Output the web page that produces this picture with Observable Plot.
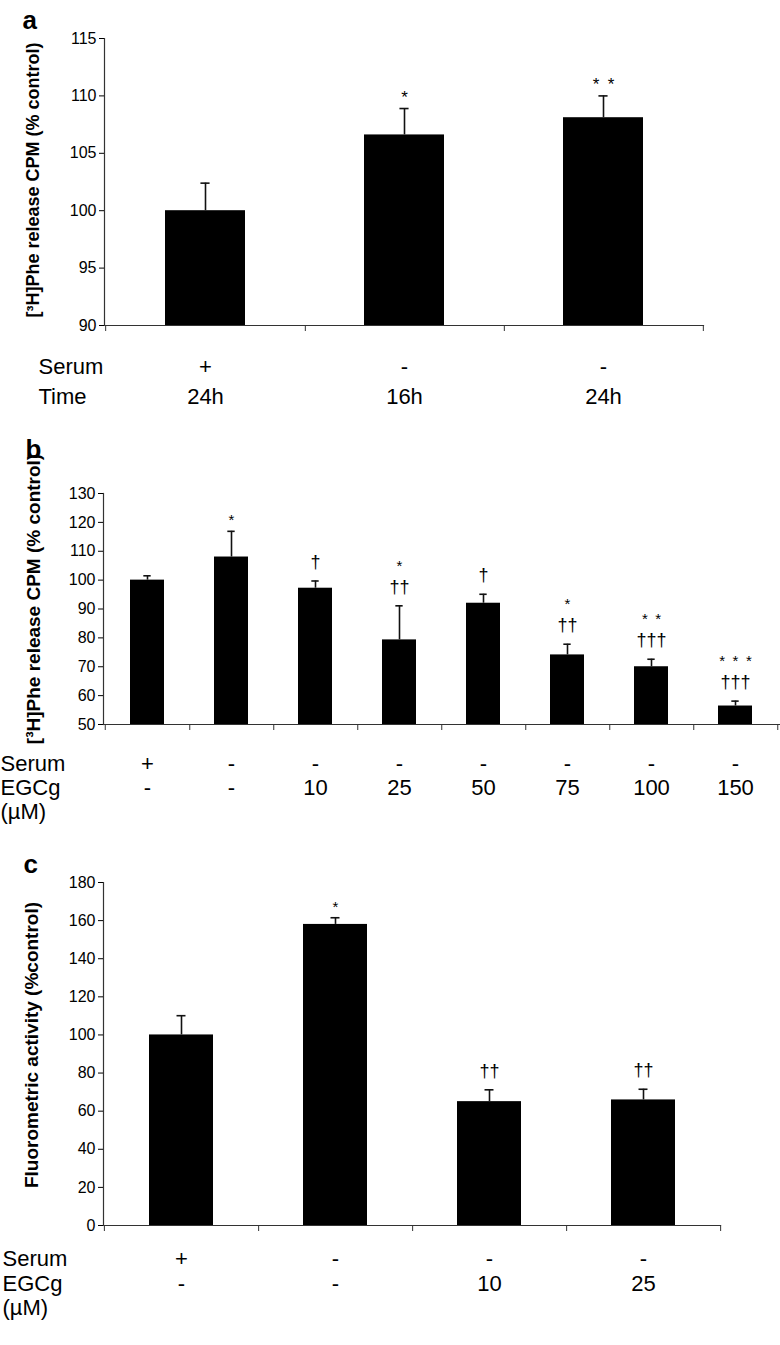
<!DOCTYPE html>
<html><head><meta charset="utf-8">
<script src="https://cdn.jsdelivr.net/npm/d3@7"></script>
<script src="https://cdn.jsdelivr.net/npm/@observablehq/plot@0.6"></script>
<style>
body{margin:0;background:#fff;width:780px;}
#chart svg{display:block;}
</style></head><body><div id="chart"></div>
<script>
// ---------- Panel a ----------
const aSerum = ["+", "-", "-"];
const aTime = ["24h", "16h", "24h"];
const aValues = [100.0, 106.6, 108.1];
const aErrors = [2.4, 2.3, 1.9];
const aStars = ["", "*", "* *"];
const aDaggers = ["", "", ""];
const aTicks = [90, 95, 100, 105, 110, 115];
const aRowLabels = ["Serum", "Time"];
const aYLabel = "[³H]Phe release CPM (% control)";

// ---------- Panel b ----------
const bSerum = ["+", "-", "-", "-", "-", "-", "-", "-"];
const bEGCg = ["-", "-", "10", "25", "50", "75", "100", "150"];
const bValues = [100.0, 108.0, 97.2, 79.3, 92.0, 74.1, 70.0, 56.4];
const bErrors = [1.5, 8.9, 2.5, 11.8, 3.1, 3.7, 2.6, 1.7];
const bStars = ["", "*", "", "*", "", "*", "* *", "* * *"];
const bDaggers = ["", "", "†", "††", "†", "††", "†††", "†††"];
const bTicks = [50, 60, 70, 80, 90, 100, 110, 120, 130];
const bRowLabels = ["Serum", "EGCg", "(µM)"];
const bYLabel = "[³H]Phe release CPM (% control)";

// ---------- Panel c ----------
const cSerum = ["+", "-", "-", "-"];
const cEGCg = ["-", "-", "10", "25"];
const cValues = [100.0, 158.0, 65.0, 65.9];
const cErrors = [10.1, 3.5, 6.2, 5.6];
const cStars = ["", "*", "", ""];
const cDaggers = ["", "", "††", "††"];
const cTicks = [0, 20, 40, 60, 80, 100, 120, 140, 160, 180];
const cRowLabels = ["Serum", "EGCg", "(µM)"];
const cYLabel = "Fluorometric activity (%control)";

const FONT = "'Liberation Sans', Arial, Helvetica, sans-serif";

function panel(cfg) {
  const {letter, rows, rowLabels, values, errors, stars, daggers, ticks, yLabel,
         height, mt, mb, ml, mr, pad, cap, rowDy, labelDy, rowLabelDx,
         titleDx, titleDy, titleSize, letterDx, letterDy, starSize} = cfg;
  const W = 780;
  const n = values.length;
  const step = (W - ml - mr) / n;
  const bw = step * (1 - pad);
  const inset = (bw - cap) / 2;
  const data = values.map((v, i) => ({
    k: String(i), v, top: v + errors[i],
    star: stars[i].replace(/ /g, "\u2002"), dagger: daggers[i],
    r0: rows[0][i], r1: rows[1][i]
  }));
  const withDag = data.filter(d => d.star && d.dagger);
  const starOnly = data.filter(d => d.star && !d.dagger);
  const dag = data.filter(d => d.dagger);
  const marks = [
    Plot.barY(data, {x: "k", y1: ticks[0], y2: "v", fill: "black"}),
    Plot.ruleX(data, {x: "k", y1: "v", y2: "top", stroke: "#111", strokeWidth: 1.6}),
    Plot.tickY(data, {x: "k", y: "top", stroke: "#111", strokeWidth: 1.6, insetLeft: inset, insetRight: inset}),
    Plot.frame({anchor: "left", stroke: "#333", strokeWidth: 1.2}),
    Plot.frame({anchor: "bottom", stroke: "#333", strokeWidth: 1.2}),
    Plot.axisY({ticks, tickSize: 5, tickPadding: 3, fontSize: 16, label: null, tickFormat: d => String(d)}),
    Plot.axisX({tickSize: 6, tickFormat: () => "", dx: step / 2, label: null, stroke: "#333"}),
    Plot.axisX({ticks: [data[0].k], tickSize: 6, tickFormat: () => "", dx: -step / 2, label: null, stroke: "#333"}),
    Plot.text(data, {x: "k", text: "r0", frameAnchor: "bottom", lineAnchor: "middle", dy: rowDy[0], fontSize: 22}),
    Plot.text(data, {x: "k", text: "r1", frameAnchor: "bottom", lineAnchor: "middle", dy: rowDy[1], fontSize: 22}),
    Plot.text(dag, {x: "k", y: "top", text: "dagger", dy: -19, fontSize: 18}),
    Plot.text(starOnly, {x: "k", y: "top", text: "star", dy: -11, fontSize: starSize}),
    Plot.text(withDag, {x: "k", y: "top", text: "star", dy: -40, fontSize: starSize}),
    Plot.text([yLabel], {frameAnchor: "left", textAnchor: "middle", lineAnchor: "middle", rotate: -90, dx: titleDx, dy: titleDy, fontWeight: "bold", fontSize: titleSize}),
    Plot.text([letter], {frameAnchor: "top-left", textAnchor: "start", lineAnchor: "bottom", dx: letterDx, dy: letterDy, fontWeight: "bold", fontSize: 26})
  ];
  rowLabels.forEach((lab, j) => {
    marks.push(Plot.text([lab], {frameAnchor: "bottom-left", textAnchor: "start", lineAnchor: "middle", dx: rowLabelDx, dy: labelDy[j], fontSize: 22}));
  });
  return Plot.plot({
    width: W, height,
    marginTop: mt, marginBottom: mb, marginLeft: ml, marginRight: mr,
    style: {fontFamily: FONT, color: "black", background: "white", overflow: "visible"},
    x: {domain: data.map(d => d.k), paddingInner: pad, paddingOuter: pad / 2},
    y: {domain: [ticks[0], ticks[ticks.length - 1]]},
    marks
  });
}

const root = document.getElementById("chart");
root.appendChild(panel({
  letter: "a", rows: [aSerum, aTime], rowLabels: aRowLabels,
  values: aValues, errors: aErrors, stars: aStars, daggers: aDaggers, ticks: aTicks, yLabel: aYLabel,
  height: 420, mt: 38, mb: 95, ml: 104, mr: 77, pad: 0.6, cap: 9,
  rowDy: [41, 71], labelDy: [41, 71], rowLabelDx: -66,
  titleDx: -71, titleDy: -2, titleSize: 18, letterDx: -82, letterDy: -10, starSize: 17
}));
root.appendChild(panel({
  letter: "b", rows: [bSerum, bEGCg], rowLabels: bRowLabels,
  values: bValues, errors: bErrors, stars: bStars, daggers: bDaggers, ticks: bTicks, yLabel: bYLabel,
  height: 410, mt: 73, mb: 106, ml: 103, mr: 1, pad: 0.59, cap: 8,
  rowDy: [39, 63], labelDy: [39, 63, 87], rowLabelDx: -103,
  titleDx: -70, titleDy: -10, titleSize: 19, letterDx: -78, letterDy: -36, starSize: 15
}));
root.appendChild(panel({
  letter: "c", rows: [cSerum, cEGCg], rowLabels: cRowLabels,
  values: cValues, errors: cErrors, stars: cStars, daggers: cDaggers, ticks: cTicks, yLabel: cYLabel,
  height: 515, mt: 52, mb: 120, ml: 103, mr: 60, pad: 0.585, cap: 9,
  rowDy: [33, 58], labelDy: [33, 58, 82], rowLabelDx: -101,
  titleDx: -72, titleDy: -9, titleSize: 19, letterDx: -80, letterDy: -10, starSize: 15
}));
</script></body></html>
